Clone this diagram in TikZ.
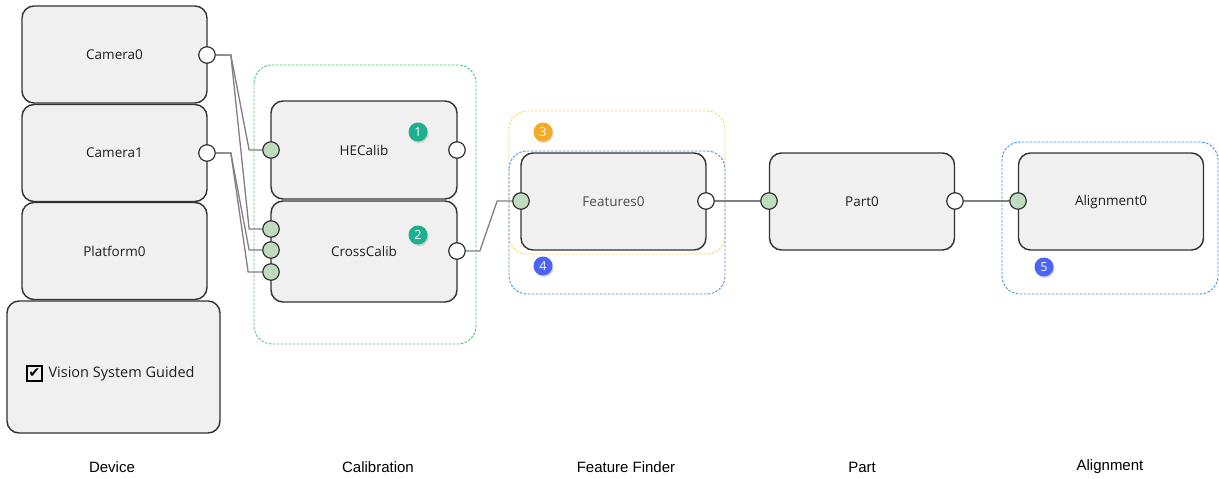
\documentclass[tikz,border=0pt]{standalone}
\usepackage{fontspec}
\setmainfont{Open Sans}
\newfontfamily\captionfont{Liberation Sans}
\newfontfamily\symbolfont{DejaVu Sans}
\usetikzlibrary{positioning}
\usetikzlibrary{shadows}

\definecolor{boxfill}{RGB}{240,240,240}
\definecolor{boxline}{RGB}{50,50,50}
\definecolor{boxtext}{RGB}{30,30,30}
\definecolor{portgreen}{RGB}{192,220,190}
\definecolor{wiregray}{RGB}{128,128,128}
\definecolor{calibgreen}{RGB}{70,200,120}
\definecolor{finderyellow}{RGB}{255,210,80}
\definecolor{finderblue}{RGB}{70,145,225}
\definecolor{badgeteal}{RGB}{30,175,140}
\definecolor{badgeorange}{RGB}{245,170,35}
\definecolor{badgeblue}{RGB}{75,100,245}

\begin{document}
\begin{tikzpicture}[
        x=1pt, y=-1pt,
        block/.style={draw=boxline, line width=1.4pt, fill=boxfill, rounded corners=12pt,
            minimum width=185pt, minimum height=97pt, text=boxtext, font=\fontsize{13.5}{15}\selectfont},
        port out/.style={circle, draw=boxline, line width=1.2pt, fill=white, minimum size=16.5pt, inner sep=0pt},
        port in/.style={port out, fill=portgreen},
        wire/.style={draw=wiregray, line width=1.3pt},
        group/.style={draw=#1, dash pattern=on 2.5pt off 1.5pt, line width=0.9pt, rounded corners=18pt},
        badge/.style={circle, fill=#1, text=white, minimum size=19pt, inner sep=0pt,
            font=\fontsize{12.5}{12.5}\selectfont,
            drop shadow={opacity=0.3, shadow xshift=1pt, shadow yshift=-1.5pt}},
        stage/.style={font=\captionfont\fontsize{15}{17}\selectfont},
    ]

    \useasboundingbox (0,0) rectangle (1219,479);

    % Dashed group frames
    \draw[group=calibgreen] (254,65) rectangle (476,344);
    \draw[group=finderyellow] (509,111) rectangle (725,254);
    \draw[group=finderblue] (509,151) rectangle (725,294);
    \draw[group=finderblue] (1002,142) rectangle (1218,294);

    % Device column
    \node[block] (camera0) at (114.5,54.5) {Camera0};
    \node[block] (camera1) at (114.5,153) {Camera1};
    \node[block] (platform0) at (114.5,251) {Platform0};
    \node[block, minimum width=213pt, minimum height=132pt] (vsg) at (113.5,367) {};
    \node[draw=black, line width=1.1pt, minimum size=15pt, inner sep=0pt,
          font=\symbolfont\fontsize{14}{14}\selectfont] (vsg-check) at (34.5,373.5) {✔};
    \node[font=\fontsize{14.5}{16}\selectfont, text=boxtext, right=2.5pt of vsg-check] (vsg-label) {Vision System Guided};

    % Calibration blocks
    \node[block, minimum width=186pt, minimum height=98pt] (hecalib) at (364,150) {HECalib};
    \node[block, minimum width=186pt, minimum height=101pt] (crosscalib) at (364,251.5) {CrossCalib};

    % Feature finder, part and alignment
    \node[block, text=boxtext!80] (features0) at (613.5,201.5) {Features0};
    \node[block] (part0) at (862,201.5) {Part0};
    \node[block] (alignment0) at (1111,201.5) {Alignment0};

    % Ports
    \node[port out] (cam0-out) at (207,55) {};
    \node[port out] (cam1-out) at (207,153) {};
    \node[port in] (he-in) at (271,150) {};
    \node[port out] (he-out) at (457,150) {};
    \node[port in] (cc-in1) at (271,229) {};
    \node[port in] (cc-in2) at (271,250) {};
    \node[port in] (cc-in3) at (271,272) {};
    \node[port out] (cc-out) at (457,251) {};
    \node[port in] (feat-in) at (521,201) {};
    \node[port out] (feat-out) at (706,201) {};
    \node[port in] (part-in) at (769,201) {};
    \node[port out] (part-out) at (955,201) {};
    \node[port in] (align-in) at (1018,201) {};

    % Step badges
    \node[badge=badgeteal] (step1) at (418,132) {1};
    \node[badge=badgeteal] (step2) at (418,235) {2};
    \node[badge=badgeorange] (step3) at (543,132) {3};
    \node[badge=badgeblue] (step4) at (543,266) {4};
    \node[badge=badgeblue] (step5) at (1044,267) {5};

    % Wires between ports
    \draw[wire] (cam0-out.east) -- ++(15,0) -- ([xshift=-13pt]he-in.west) -- (he-in.west);
    \draw[wire] (cam0-out.east) -- ++(15,0) -- ([xshift=-13pt]cc-in1.west) -- (cc-in1.west);
    \draw[wire] (cam1-out.east) -- ++(15,0) -- ([xshift=-13pt]cc-in2.west) -- (cc-in2.west);
    \draw[wire] (cam1-out.east) -- ++(15,0) -- ([xshift=-14pt]cc-in3.west) -- (cc-in3.west);
    \draw[wire] (cc-out.east) -- ++(14,0) -- ([xshift=-15pt]feat-in.west) -- (feat-in.west);
    \draw[wire] (feat-out.east) -- (part-in.west);
    \draw[wire] (part-out.east) -- (align-in.west);

    % Stage captions
    \node[stage] (cap-device) at (112,467) {Device};
    \node[stage] (cap-calib) at (378,467) {Calibration};
    \node[stage] (cap-finder) at (626,467) {Feature Finder};
    \node[stage] (cap-part) at (862,467) {Part};
    \node[stage] (cap-align) at (1110,467) {Alignment};

\end{tikzpicture}
\end{document}
